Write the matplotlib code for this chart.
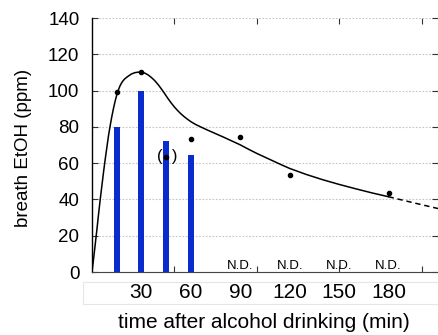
import matplotlib
matplotlib.use('Agg')
import matplotlib.pyplot as plt
from matplotlib.patches import Rectangle

plt.rcParams['font.family'] = ['Liberation Sans', 'DejaVu Sans']

# bar data: breath EtOH measured by sensor
bar_t = [15, 30, 45, 60]
bar_val = [80, 100, 72, 64.5]

# reference dots
dot_t = [15, 30, 45, 60, 90, 120, 180]
dot_val = [99, 110.5, 63.6, 73.5, 74.3, 53.5, 43.5]

# fitted curve (solid part)
curve_t = [0, 1, 2, 3, 4, 5, 6, 7, 8, 9, 10, 11, 12, 13, 14, 15, 16, 17, 18,
           19, 20, 22, 24, 26, 28, 30, 32, 34, 36, 38, 40, 42, 44, 46, 48, 50,
           52, 54, 56, 58, 60, 63, 66, 70, 75, 80, 85, 90, 95, 100, 105, 110,
           115, 120, 130, 140, 150, 160, 170, 180]
curve_val = [0, 7.5, 15.5, 23.5, 32, 40, 47.5, 55, 62, 68.5, 75, 80.5, 85.5,
             90, 94, 97.5, 100.3, 102.6, 104.3, 105.6, 106.6, 108, 109.2, 109.9,
             110.2, 110.2, 109.7, 108.7, 107.3, 105.6, 103.5, 101.1, 98.5, 95.8,
             93.3, 91, 89, 87.2, 85.6, 84.2, 82.9, 81.3, 80, 78.3, 76.3, 74.3,
             72.2, 70.1, 67.7, 65.4, 63.3, 61.2, 59.1, 57.1, 53.8, 50.9, 48.3,
             45.9, 43.6, 41.5]
# extrapolated part (dashed)
ext_t = [180, 195, 210]
ext_val = [41.5, 38.2, 35]

nd_t = [90, 120, 150, 180]
xlab_t = [30, 60, 90, 120, 150, 180]

fig = plt.figure(figsize=(4.38, 3.35), dpi=100)
ax = fig.add_axes([0.21, 0.188, 0.79, 0.758])

ax.bar(bar_t, bar_val, width=3.6, color='#0a2ccc', zorder=3)
ax.plot(curve_t, curve_val, color='black', lw=1.1, zorder=4)
ax.plot(ext_t, ext_val, color='black', lw=1.1, ls=(0, (3.5, 2.5)), zorder=4)
ax.plot(dot_t, dot_val, 'o', color='black', ms=3, zorder=5)
ax.text(45.5, 63.6, '(  )', ha='center', va='center', fontsize=12, zorder=6)

for t in nd_t:
    ax.text(t, 1.6, 'N.D.', ha='center', va='baseline', fontsize=9.5)

ax.set_xlim(0, 210)
ax.set_ylim(0, 140)
ax.set_yticks(range(0, 141, 20))
ax.set_xticks([50, 100, 150, 200])
ax.set_xticklabels([])
ax.tick_params(axis='both', direction='in', length=4, width=0.8,
               top=True, right=True, labelsize=13.5, colors='#333333',
               labelcolor='black')
ax.tick_params(axis='y', pad=9)
ax.grid(axis='y', ls=(0, (1.5, 1.5)), color='#c4c4c4', lw=0.8)
ax.spines['top'].set_visible(False)
ax.spines['right'].set_visible(False)
ax.spines['bottom'].set_color('#444444')
ax.spines['left'].set_linewidth(1.0)

# x tick labels sit in a faint box below the axis
for t in xlab_t:
    ax.text(t, -11.3, str(t), ha='center', va='center',
            fontsize=15, clip_on=False)
fig.patches.append(Rectangle((83 / 438, 1 - 304 / 335), 1, 22.5 / 335,
                             transform=fig.transFigure, fill=False,
                             edgecolor='#e6e6e6', lw=0.8))

ax.set_ylabel('breath EtOH (ppm)', fontsize=13.5)
ax.yaxis.set_label_coords(-0.172, 0.49)
fig.text(0.603, 1 - 328 / 335, 'time after alcohol drinking (min)',
         ha='center', va='baseline', fontsize=15)

plt.savefig('out.png', dpi=100)
